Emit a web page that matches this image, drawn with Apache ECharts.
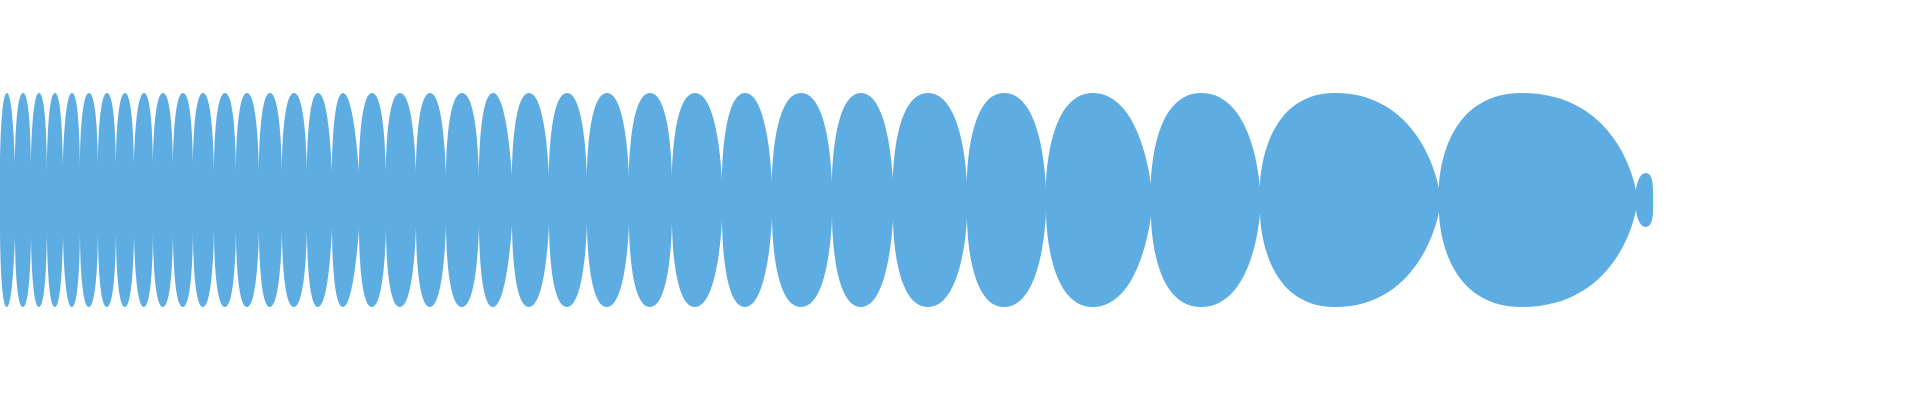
<!DOCTYPE html>
<html>
<head>
<meta charset="utf-8">
<script src="https://cdn.jsdelivr.net/npm/echarts@6/dist/echarts.min.js"></script>
<style>
html,body{margin:0;padding:0;background:#fff;}
#c{width:1920px;height:400px;}
</style>
</head>
<body>
<div id="c"></div>
<script>
// Lobe boundaries (pinch points) and their half-heights
var pinchX = [0, 15, 31, 47, 63, 80, 98, 116, 134, 153, 173, 193, 214, 236, 259, 282, 307,
  332, 359, 386, 416, 446, 479, 512, 549, 587, 629, 672, 722, 772, 832, 893, 967,
  1046, 1151, 1260, 1439, 1636, 1653];
var pinchValue = [25, 37, 35, 30, 36, 33, 33, 33, 35, 34, 33, 33, 30, 31, 31, 31, 30,
  28, 29, 29, 27, 25, 25, 25, 25, 23, 24, 22, 20, 18, 17, 19, 18,
  12, 16, 13, 12, 10, 12];
// One peak per lobe
var peakX = [7, 23, 39, 55, 72, 89, 107, 125, 144, 163, 183, 203, 225, 247, 270, 294, 318,
  343, 372, 400, 430, 462, 493, 529, 567, 607, 650, 695, 745, 801, 861, 928,
  1004, 1093, 1201, 1335, 1522, 1646];
var peakValue = [107, 107, 107, 107, 107, 107, 107, 107, 107, 107, 107, 107, 107, 107, 107, 107, 107,
  107, 107, 107, 107, 107, 107, 107, 107, 107, 107, 107, 107, 107, 107, 107,
  107, 107, 107, 107, 107, 27];

var color = '#5dade2';

function build(sign) {
  var d = [];
  for (var i = 0; i < peakX.length; i++) {
    d.push([pinchX[i], sign * pinchValue[i]]);
    d.push([peakX[i], sign * peakValue[i]]);
    d.push([pinchX[i + 1], sign * pinchValue[i + 1]]);
    d.push([pinchX[i + 1], '-']);
  }
  return d;
}

function series(sign) {
  return {
    type: 'line',
    data: build(sign),
    smooth: 1,
    symbol: 'none',
    showSymbol: false,
    connectNulls: false,
    silent: true,
    animation: false,
    lineStyle: { width: 0, color: color },
    itemStyle: { color: color },
    areaStyle: { color: color, opacity: 1, origin: 0 }
  };
}

var chart = echarts.init(document.getElementById('c'), null, { renderer: 'canvas' });
chart.setOption({
  animation: false,
  grid: { left: 0, right: 0, top: 0, bottom: 0 },
  xAxis: { type: 'value', min: 0, max: 1920, show: false },
  yAxis: { type: 'value', min: -200, max: 200, show: false },
  series: [series(1), series(-1)]
});
</script>
</body>
</html>
